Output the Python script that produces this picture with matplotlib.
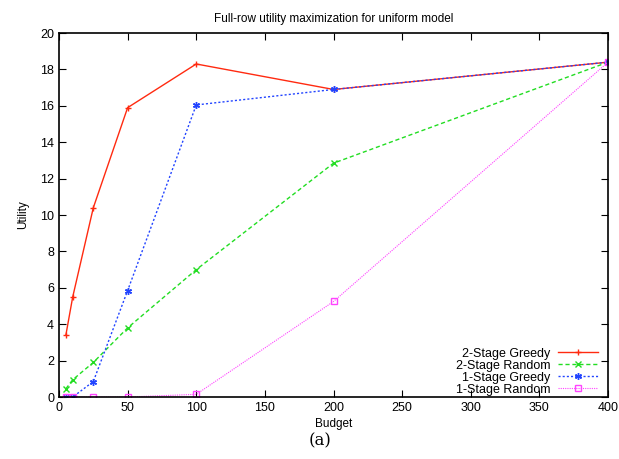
import numpy as np
import matplotlib.pyplot as plt

plt.rcParams["font.family"] = ["Liberation Sans", "DejaVu Sans"]

budget = [5, 10, 25, 50, 100, 200, 400]
greedy2 = [3.4, 5.5, 10.4, 15.9, 18.3, 16.9, 18.4]
random2 = [0.45, 0.95, 1.9, 3.8, 7.0, 12.85, 18.4]
greedy1 = [0.0, 0.0, 0.85, 5.85, 16.05, 16.9, 18.4]
random1 = [0.0, 0.0, 0.0, 0.0, 0.15, 5.25, 18.4]

fig = plt.figure(figsize=(6.19, 4.59), dpi=100)
ax = fig.add_axes([0.0953, 0.135, 0.887, 0.793])

ax.plot(budget, greedy2, color="#ff2a10", lw=1.0, marker="+", ms=5, mew=1.0, label="2-Stage Greedy")
ax.plot(budget, random2, color="#22dd22", lw=1.0, ls=(0, (3, 2)), marker="x", ms=5, mew=1.0, label="2-Stage Random")
ax.plot(budget, greedy1, color="#2244ff", lw=1.0, ls=(0, (1.5, 1.5)), marker=(6, 2, 0), ms=5, mew=1.0, label="1-Stage Greedy")
ax.plot(budget, random1, color="#ff44ff", lw=0.8, ls=(0, (1, 1)), marker="s", ms=5, mfc="none", mew=1.0, label="1-Stage Random")

ax.set_xlim(0, 400)
ax.set_ylim(0, 20)
ax.set_xticks(np.arange(0, 401, 50))
ax.set_yticks(np.arange(0, 21, 2))
ax.tick_params(direction="in", top=True, right=True, labelsize=9, length=5, width=0.8)
for s in ax.spines.values():
    s.set_linewidth(1.2)

ax.set_xlabel("Budget", fontsize=8.5, labelpad=3)
ax.set_ylabel("Utility", fontsize=8.5, labelpad=8)
ax.set_title("Full-row utility maximization for uniform model", fontsize=8.5, pad=8)

ax.legend(loc="lower right", bbox_to_anchor=(0.99, -0.01), frameon=False, fontsize=9, markerfirst=False,
          handlelength=3.2, labelspacing=0.0, borderaxespad=0.0, handletextpad=0.6)

fig.text(0.517, 0.04, "(a)", family="DejaVu Serif", fontsize=12, ha="center", va="center")

plt.savefig("out.png", dpi=100)
